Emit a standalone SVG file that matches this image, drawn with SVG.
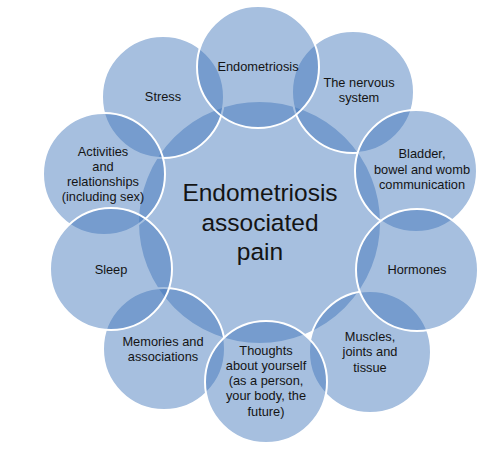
<svg xmlns="http://www.w3.org/2000/svg" width="501" height="452" viewBox="0 0 501 452">
<style>
.c{fill:#3E74BA;fill-opacity:0.46;stroke:#ffffff;stroke-width:2}
.t{font-family:"Liberation Sans",Arial,sans-serif;font-size:12.8px;fill:#141414;text-anchor:middle}
.big{font-family:"Liberation Sans",Arial,sans-serif;font-size:24.5px;fill:#141414;text-anchor:middle}
</style>
<rect width="501" height="452" fill="#ffffff"/>
<g id="center">
<circle class="c" cx="259.5" cy="222.5" r="121.5"/>
<text class="big" x="260" y="201">Endometriosis</text>
<text class="big" x="260" y="231">associated</text>
<text class="big" x="260" y="260">pain</text>
</g>
<g id="stress">
<circle class="c" cx="163" cy="97" r="61"/>
<text class="t" x="163" y="100.5">Stress</text>
</g>
<g id="nervous">
<circle class="c" cx="353" cy="92" r="61"/>
<text class="t" x="359" y="87">The nervous</text>
<text class="t" x="359" y="102">system</text>
</g>
<g id="memories">
<circle class="c" cx="164" cy="349" r="61"/>
<text class="t" x="163" y="345.5">Memories and</text>
<text class="t" x="163" y="361">associations</text>
</g>
<g id="muscles">
<circle class="c" cx="370" cy="352" r="61"/>
<text class="t" x="370" y="340.5">Muscles,</text>
<text class="t" x="370" y="356">joints and</text>
<text class="t" x="370" y="371.5">tissue</text>
</g>
<g id="activities">
<circle class="c" cx="104" cy="174" r="61"/>
<text class="t" x="103" y="155.5">Activities</text>
<text class="t" x="103" y="170.5">and</text>
<text class="t" x="103" y="186">relationships</text>
<text class="t" x="103" y="201">(including sex)</text>
</g>
<g id="endometriosis">
<circle class="c" cx="258" cy="67" r="61"/>
<text class="t" x="258" y="71">Endometriosis</text>
</g>
<g id="bladder">
<circle class="c" cx="416" cy="171" r="61"/>
<text class="t" x="422" y="158">Bladder,</text>
<text class="t" x="422" y="173.5">bowel and womb</text>
<text class="t" x="422" y="189">communication</text>
</g>
<g id="hormones">
<circle class="c" cx="417" cy="270" r="61"/>
<text class="t" x="417" y="273.5">Hormones</text>
</g>
<g id="thoughts">
<circle class="c" cx="266" cy="382" r="61"/>
<text class="t" x="266" y="354.5">Thoughts</text>
<text class="t" x="266" y="369.8">about yourself</text>
<text class="t" x="266" y="385.1">(as a person,</text>
<text class="t" x="266" y="400.4">your body, the</text>
<text class="t" x="266" y="415.7">future)</text>
</g>
<g id="sleep">
<circle class="c" cx="111" cy="269" r="61"/>
<text class="t" x="111" y="273.5">Sleep</text>
</g>
</svg>
